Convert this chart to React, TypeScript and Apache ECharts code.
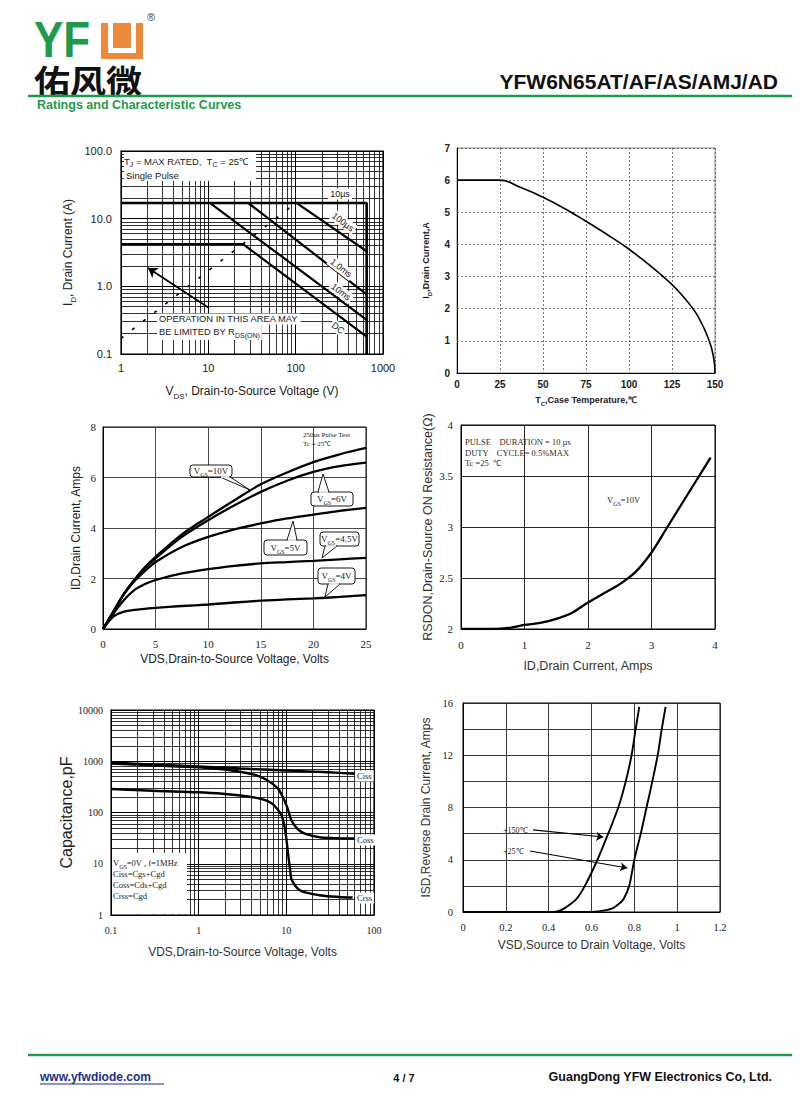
import React, { useEffect, useRef } from "react";
import * as echarts from "echarts";

const SANS = "'Liberation Sans', Arial, Helvetica, sans-serif";
const SERIF = "'Liberation Serif', 'Times New Roman', serif";
const CJK = "'Noto Sans CJK SC', sans-serif";
const GREEN = "#1f9a4c";
const ORANGE = "#ec8a3c";
const INK = "#1a1a1a";

// ---------- Chart 1: Safe operating area (log-log) ----------
const soaXRange = [1, 1000];
const soaYRange = [0.1, 100];
const soa10us = [[1, 17], [650, 17], [650, 0.1]];
const soa100us = [[103, 17], [650, 3.3]];
const soa1ms = [[28.7, 17], [650, 0.76]];
const soa10ms = [[10.5, 17], [650, 0.32]];
const soaDC = [[1, 4.2], [25, 4.2], [650, 0.18]];
const soaRdsLimit = [[1, 0.17], [90, 15.3]];
const soaArrow = [[10.2, 0.48], [2.04, 1.86]];

// ---------- Chart 2: Current derating ----------
const derTemp = [0, 25, 37.5, 50, 62.5, 75, 87.5, 100, 112.5, 125, 131, 137.5, 140, 142, 144, 146, 147.5, 148.5, 149.3, 149.8, 150];
const derCurrent = [6, 6, 5.76, 5.47, 5.12, 4.72, 4.3, 3.85, 3.33, 2.75, 2.41, 1.98, 1.77, 1.57, 1.35, 1.09, 0.86, 0.66, 0.44, 0.22, 0];

// ---------- Chart 3: Output characteristics ----------
const outVds = [0, 1, 2, 3, 4, 5, 7.5, 10, 12.5, 15, 17.5, 20, 22.5, 25];
const outId10V = [0, 0.7, 1.4, 1.95, 2.45, 2.86, 3.75, 4.44, 5.1, 5.73, 6.2, 6.61, 6.92, 7.17];
const outId6V = [0, 0.7, 1.4, 1.95, 2.42, 2.8, 3.65, 4.31, 4.9, 5.43, 5.87, 6.22, 6.45, 6.59];
const outId5V = [0, 0.7, 1.38, 1.9, 2.3, 2.65, 3.25, 3.65, 3.95, 4.18, 4.38, 4.53, 4.68, 4.8];
const outId45V = [0, 0.62, 1.15, 1.55, 1.78, 1.94, 2.2, 2.37, 2.5, 2.6, 2.65, 2.7, 2.76, 2.82];
const outId4V = [0, 0.5, 0.69, 0.76, 0.8, 0.84, 0.91, 0.97, 1.05, 1.12, 1.17, 1.21, 1.27, 1.34];

// ---------- Chart 4: On-resistance vs drain current ----------
const rdsId = [0, 0.5, 0.75, 1, 1.25, 1.5, 1.75, 2, 2.25, 2.5, 2.75, 3, 3.25, 3.5, 3.75, 3.93];
const rdsOhm = [2.0, 2.0, 2.01, 2.04, 2.06, 2.1, 2.16, 2.26, 2.35, 2.44, 2.56, 2.75, 3.0, 3.25, 3.5, 3.68];

// ---------- Chart 5: Capacitance (log-log) ----------
const capXRange = [0.1, 100];
const capYRange = [1, 10000];
const cissV = [0.1, 0.3, 1, 3, 10, 30, 60];
const cissPF = [950, 860, 790, 720, 660, 610, 570];
const cossV = [0.1, 0.3, 1, 2, 3, 4.4, 6, 8, 9, 10, 10.7, 11.4, 12.5, 14, 16, 20, 25, 40, 60];
const cossPF = [900, 830, 760, 690, 620, 540, 430, 295, 210, 140, 100, 71, 55, 45, 39, 35, 32.5, 31.5, 31];
const crssV = [0.1, 0.3, 1, 2, 3, 4.4, 5.5, 6.8, 7.8, 8.8, 9.5, 10, 10.5, 11, 11.4, 12.5, 14, 16, 25, 40, 57];
const crssPF = [288, 265, 248, 230, 215, 195, 178, 152, 120, 89, 55, 31, 15, 8, 5.1, 3.8, 3.1, 2.8, 2.4, 2.25, 2.2];

// ---------- Chart 6: Body diode forward ----------
const vsd150 = [0, 0.4, 0.44, 0.475, 0.53, 0.569, 0.628, 0.678, 0.725, 0.76, 0.787, 0.806, 0.823];
const isd150 = [0, 0, 0.05, 0.3, 1, 2, 4, 6, 8, 10, 12, 14, 15.7];
const vsd25 = [0, 0.58, 0.62, 0.66, 0.7, 0.73, 0.75, 0.776, 0.8, 0.83, 0.857, 0.884, 0.909, 0.928, 0.946];
const isd25 = [0, 0, 0.03, 0.12, 0.3, 0.65, 1, 2, 4, 6, 8, 10, 12, 14, 15.7];
const arrow150 = [[0.327, 6.28], [0.655, 5.74]];
const arrow25 = [[0.313, 4.67], [0.767, 3.37]];

const zip = (xs: number[], ys: number[]) => xs.map((x, i) => [x, ys[i]]);

function decadeMinors(lo: number, hi: number): number[] {
  const out: number[] = [];
  for (let d = lo; d < hi * 0.999; d *= 10) {
    for (let k = 2; k <= 9; k++) out.push(+(d * k).toPrecision(3));
  }
  return out;
}

const cleanNum = (v: number) => String(+Number(v).toPrecision(6));

function nameStyle(size: number, family = SANS, weight: any = "normal", color = "#222") {
  return {
    fontSize: size,
    fontFamily: family,
    fontWeight: weight,
    color,
    rich: {
      a: { fontSize: size, fontFamily: family, fontWeight: weight, color, lineHeight: Math.round(size * 1.5) },
      s: { fontSize: Math.round(size * 0.68), fontFamily: family, fontWeight: weight, color, lineHeight: Math.round(size * 0.68), verticalAlign: "bottom" },
    },
  };
}

function labelStyle(size: number, family: string, margin: number, extra: any = {}) {
  return { fontSize: size, fontFamily: family, color: "#222", margin, ...extra };
}

function thick(idx: number, data: number[][], width = 2.3, extra: any = {}) {
  return {
    type: "line",
    xAxisIndex: idx,
    yAxisIndex: idx,
    data,
    symbol: "none",
    showSymbol: false,
    silent: true,
    smooth: 0.3,
    lineStyle: { color: "#000", width },
    z: 4,
    ...extra,
  };
}

function gridLines(idx: number, xs: number[], ys: number[], color = "#000", width = 0.8) {
  return {
    type: "line",
    xAxisIndex: idx,
    yAxisIndex: idx,
    data: [],
    silent: true,
    z: 1,
    markLine: {
      silent: true,
      animation: false,
      symbol: ["none", "none"],
      label: { show: false },
      lineStyle: { color, width, type: "solid" },
      emphasis: { disabled: true },
      data: [...xs.map((v) => ({ xAxis: v })), ...ys.map((v) => ({ yAxis: v }))],
    },
  };
}

function arrowSeries(idx: number, pts: number[][], width = 1.6, size = 8) {
  return {
    type: "line",
    xAxisIndex: idx,
    yAxisIndex: idx,
    data: [],
    silent: true,
    z: 5,
    markLine: {
      silent: true,
      animation: false,
      symbol: ["none", "arrow"],
      symbolSize: size,
      label: { show: false },
      lineStyle: { color: "#000", width, type: "solid" },
      emphasis: { disabled: true },
      data: [[{ coord: pts[0] }, { coord: pts[1] }]],
    },
  };
}

function txt(x: number, y: number, text: string, size: number, opts: any = {}) {
  const { family = SANS, weight = "normal", fill = INK, align = "left", rotation = 0, bg, rich, z = 100, scaleX = 1, scaleY = 1 } = opts;
  const style: any = {
    text,
    fontSize: size,
    fontFamily: family,
    fontWeight: weight,
    fill,
    align,
    textAlign: align,
    verticalAlign: "middle",
    textVerticalAlign: "middle",
  };
  if (bg) {
    style.backgroundColor = bg;
    style.padding = [1, 2, 1, 2];
  }
  if (rich) style.rich = rich;
  return { type: "text", x, y, rotation, scaleX, scaleY, z, silent: true, style };
}

function subRich(size: number, family = SANS, fill = INK, weight: any = "normal") {
  return {
    a: { fontSize: size, fontFamily: family, fill, color: fill, fontWeight: weight, lineHeight: Math.round(size * 1.5) },
    s: { fontSize: Math.round(size * 0.7), fontFamily: family, fill, color: fill, fontWeight: weight, lineHeight: Math.round(size * 0.7), verticalAlign: "bottom" },
  };
}

function callout(box: number[], pointer: number[][], label: string) {
  const [bx, by, bw, bh] = box;
  const els: any[] = [
    { type: "rect", z: 90, silent: true, shape: { x: bx, y: by, width: bw, height: bh, r: 3 }, style: { fill: "#fff", stroke: "#000", lineWidth: 0.9 } },
    { type: "polygon", z: 91, silent: true, shape: { points: pointer }, style: { fill: "#fff", stroke: "#000", lineWidth: 0.9 } },
    { type: "line", z: 92, silent: true, shape: { x1: pointer[0][0] + 0.8, y1: pointer[0][1], x2: pointer[2][0] - 0.8, y2: pointer[2][1] }, style: { stroke: "#fff", lineWidth: 1.6 } },
    txt(bx + bw / 2, by + bh / 2, label, 9, { family: SERIF, align: "center", rich: subRich(9, SERIF), z: 93 }),
  ];
  return els;
}

function buildOption() {
  const axisBase = (idx: number) => ({
    gridIndex: idx,
    axisTick: { show: false },
    axisLine: { show: true, lineStyle: { color: "#000", width: 1 } },
  });

  const xAxis: any[] = [
    {
      ...axisBase(0), type: "log", logBase: 10, min: soaXRange[0], max: soaXRange[1],
      axisLabel: labelStyle(11, SANS, 8, { formatter: cleanNum }),
      splitLine: { show: true, lineStyle: { color: "#000", width: 1 } },
      name: "{a|V}{s|DS}{a|, Drain-to-Source Voltage (V)}", nameLocation: "middle", nameGap: 28,
      nameTextStyle: nameStyle(12),
    },
    {
      ...axisBase(1), type: "value", min: 0, max: 150, interval: 25,
      axisLabel: labelStyle(10, SANS, 6, { fontWeight: "bold" }),
      splitLine: { show: true, lineStyle: { color: "#555", width: 0.8, type: [2, 2] } },
      name: "{a|T}{s|C}{a|,Case Temperature,℃}", nameLocation: "middle", nameGap: 20,
      nameTextStyle: nameStyle(9, SANS, "bold"),
    },
    {
      ...axisBase(2), type: "value", min: 0, max: 25, interval: 5,
      axisLabel: labelStyle(11, SERIF, 9),
      splitLine: { show: true, lineStyle: { color: "#333", width: 0.9 } },
      name: "VDS,Drain-to-Source Voltage, Volts", nameLocation: "middle", nameGap: 24,
      nameTextStyle: { fontSize: 12, fontFamily: SANS, color: "#222" },
    },
    {
      ...axisBase(3), type: "value", min: 0, max: 4, interval: 1,
      axisLabel: labelStyle(11, SERIF, 10),
      splitLine: { show: true, lineStyle: { color: "#111", width: 0.9 } },
      name: "ID,Drain Current, Amps", nameLocation: "middle", nameGap: 30,
      nameTextStyle: { fontSize: 12.5, fontFamily: SANS, color: "#333" },
    },
    {
      ...axisBase(4), type: "log", logBase: 10, min: capXRange[0], max: capXRange[1],
      axisLabel: labelStyle(10, SERIF, 10, { formatter: cleanNum }),
      splitLine: { show: true, lineStyle: { color: "#000", width: 1 } },
      name: "VDS,Drain-to-Source Voltage, Volts", nameLocation: "middle", nameGap: 31,
      nameTextStyle: { fontSize: 12, fontFamily: SANS, color: "#333" },
    },
    {
      ...axisBase(5), type: "value", min: 0, max: 1.2, interval: 0.2,
      axisLabel: labelStyle(10.5, SERIF, 10, { formatter: (v: number) => String(Math.round(v * 10) / 10) }),
      splitLine: { show: true, lineStyle: { color: "#222", width: 0.9 } },
      name: "VSD,Source to Drain Voltage, Volts", nameLocation: "middle", nameGap: 27,
      nameTextStyle: { fontSize: 12, fontFamily: SANS, color: "#333" },
    },
  ];

  const yAxis: any[] = [
    {
      ...axisBase(0), type: "log", logBase: 10, min: soaYRange[0], max: soaYRange[1],
      axisLabel: labelStyle(11, SANS, 9, { formatter: (v: number) => Number(v).toFixed(1) }),
      splitLine: { show: true, lineStyle: { color: "#000", width: 1 } },
      name: "{a|I}{s|D}{a|, Drain Current (A)}", nameLocation: "middle", nameGap: 44,
      nameTextStyle: nameStyle(12),
    },
    {
      ...axisBase(1), type: "value", min: 0, max: 7, interval: 1,
      axisLabel: labelStyle(10, SANS, 7, { fontWeight: "bold" }),
      splitLine: { show: true, lineStyle: { color: "#555", width: 0.8, type: [2, 2] } },
      name: "{a|I}{s|D}{a|,Drain Current,A}", nameLocation: "middle", nameGap: 24,
      nameTextStyle: nameStyle(9, SANS, "bold"),
    },
    {
      ...axisBase(2), type: "value", min: 0, max: 8, interval: 2,
      axisLabel: labelStyle(11, SERIF, 7),
      splitLine: { show: true, lineStyle: { color: "#333", width: 0.9 } },
      name: "ID,Drain Current, Amps", nameLocation: "middle", nameGap: 21,
      nameTextStyle: { fontSize: 12, fontFamily: SANS, color: "#222" },
    },
    {
      ...axisBase(3), type: "value", min: 2, max: 4, interval: 0.5,
      axisLabel: labelStyle(11, SERIF, 8),
      splitLine: { show: true, lineStyle: { color: "#111", width: 0.9 } },
      name: "RSDON,Drain-Source ON Resistance(Ω)", nameLocation: "middle", nameGap: 27,
      nameTextStyle: { fontSize: 12.5, fontFamily: SANS, color: "#333" },
    },
    {
      ...axisBase(4), type: "log", logBase: 10, min: capYRange[0], max: capYRange[1],
      axisLabel: labelStyle(10, SERIF, 8, { formatter: cleanNum }),
      splitLine: { show: true, lineStyle: { color: "#000", width: 1 } },
      name: "Capacitance,pF", nameLocation: "middle", nameGap: 25,
      nameTextStyle: { fontSize: 16, fontFamily: SANS, color: "#222" },
    },
    {
      ...axisBase(5), type: "value", min: 0, max: 16, interval: 2,
      axisLabel: labelStyle(10.5, SERIF, 10, { formatter: (v: number) => (Math.round(v) % 4 === 0 ? String(Math.round(v)) : "") }),
      splitLine: { show: true, lineStyle: { color: "#222", width: 0.9 } },
      name: "ISD,Reverse Drain Current, Amps", nameLocation: "middle", nameGap: 31,
      nameTextStyle: { fontSize: 12, fontFamily: SANS, color: "#333" },
    },
  ];

  const series: any[] = [
    // chart 1
    gridLines(0, decadeMinors(1, 1000), decadeMinors(0.1, 100)),
    thick(0, soa10us, 2.6, { smooth: false }),
    thick(0, soa100us, 2.2, { smooth: false }),
    thick(0, soa1ms, 2.2, { smooth: false }),
    thick(0, soa10ms, 2.2, { smooth: false }),
    thick(0, soaDC, 2.2, { smooth: false }),
    thick(0, soaRdsLimit, 1.6, { smooth: false, lineStyle: { color: "#000", width: 1.6, type: [3, 11] } }),
    arrowSeries(0, soaArrow, 1.8, 9),
    // chart 2
    thick(1, zip(derTemp, derCurrent), 1.6, { smooth: 0.4 }),
    // chart 3
    thick(2, zip(outVds, outId10V), 2.3),
    thick(2, zip(outVds, outId6V), 2.3),
    thick(2, zip(outVds, outId5V), 2.3),
    thick(2, zip(outVds, outId45V), 2.3),
    thick(2, zip(outVds, outId4V), 2.3),
    // chart 4
    thick(3, zip(rdsId, rdsOhm), 2.3),
    // chart 5
    gridLines(4, decadeMinors(0.1, 100), decadeMinors(1, 10000)),
    thick(4, zip(cissV, cissPF), 2.4),
    thick(4, zip(cossV, cossPF), 2.4),
    thick(4, zip(crssV, crssPF), 2.4),
    // chart 6
    thick(5, zip(vsd150, isd150), 1.9),
    thick(5, zip(vsd25, isd25), 1.9),
    arrowSeries(5, arrow150, 1.2, 7),
    arrowSeries(5, arrow25, 1.2, 7),
  ];

  const graphic: any[] = [
    // ---- header ----
    txt(34, 40, "YF", 44, { weight: "bold", fill: GREEN, scaleY: 1.12 }),
    { type: "rect", z: 100, silent: true, shape: { x: 101, y: 23, width: 42, height: 36 }, style: { fill: ORANGE } },
    { type: "rect", z: 101, silent: true, shape: { x: 108, y: 23, width: 28, height: 30 }, style: { fill: "#fff" } },
    { type: "rect", z: 102, silent: true, shape: { x: 113, y: 23, width: 18, height: 25 }, style: { fill: ORANGE } },
    txt(147, 17, "®", 11, { fill: "#444" }),
    txt(34, 79, "佑风微", 30, { family: CJK, weight: "bold", fill: "#111", scaleX: 1.2, scaleY: 1.05 }),
    txt(778, 81, "YFW6N65AT/AF/AS/AMJ/AD", 21, { weight: "bold", align: "right", fill: "#111" }),
    { type: "line", z: 100, silent: true, shape: { x1: 28, y1: 96, x2: 792, y2: 96 }, style: { stroke: GREEN, lineWidth: 2.5 } },
    txt(37, 105, "Ratings and Characteristic Curves", 12.5, { weight: "bold", fill: GREEN }),
    // ---- footer ----
    { type: "line", z: 100, silent: true, shape: { x1: 28, y1: 1055, x2: 792, y2: 1055 }, style: { stroke: GREEN, lineWidth: 2.5 } },
    txt(40, 1077, "www.yfwdiode.com", 12, { weight: "bold", fill: "#1a2f8c" }),
    { type: "line", z: 100, silent: true, shape: { x1: 40, y1: 1084, x2: 164, y2: 1084 }, style: { stroke: "#1a2f8c", lineWidth: 1.2 } },
    txt(404, 1078, "4 / 7", 11, { weight: "bold", align: "center", fill: "#111" }),
    txt(772, 1077, "GuangDong YFW Electronics Co, Ltd.", 12.5, { weight: "bold", align: "right", fill: "#111" }),

    // ---- chart 1 annotations ----
    { type: "rect", z: 80, silent: true, shape: { x: 124, y: 152, width: 132, height: 29 }, style: { fill: "#fff" } },
    txt(124, 161, "{a|T}{s|J}{a| = MAX RATED,  T}{s|C}{a| = 25℃}", 9.5, { rich: subRich(9.5) }),
    txt(126, 175, "Single Pulse", 9.5),
    txt(340, 194, "10µs", 9, { align: "center", bg: "#fff" }),
    txt(343, 222, "100µs", 9, { align: "center", bg: "#fff", rotation: -0.65 }),
    txt(341, 268, "1.0ms", 9, { align: "center", bg: "#fff", rotation: -0.65 }),
    txt(341, 292, "10ms", 9, { align: "center", bg: "#fff", rotation: -0.65 }),
    txt(338, 328, "DC", 9, { align: "center", bg: "#fff", rotation: -0.65 }),
    txt(157, 319, "OPERATION IN THIS AREA MAY", 9.3, { bg: "#fff" }),
    txt(157, 332, "{a|BE LIMITED BY R}{s|DS(ON)}", 9.3, { bg: "#fff", rich: subRich(9.3) }),

    // ---- chart 3 annotations ----
    txt(303, 435, "250us Pulse Test", 7, { family: SERIF }),
    txt(303, 444, "Tc = 25℃", 7, { family: SERIF }),
    ...callout([190, 465, 42, 12], [[220, 477], [250, 490], [230, 477]], "{a|V}{s|GS}{a|=10V}"),
    ...callout([311, 492, 42, 14], [[318, 492], [323, 474], [329, 492]], "{a|V}{s|GS}{a|=6V}"),
    ...callout([264, 540, 43, 15], [[287, 540], [293, 521], [297, 540]], "{a|V}{s|GS}{a|=5V}"),
    ...callout([320, 532, 39, 14], [[325, 546], [322, 558], [337, 546]], "{a|V}{s|GS}{a|=4.5V}"),
    ...callout([318, 568, 37, 16], [[328, 584], [325, 597], [340, 584]], "{a|V}{s|GS}{a|=4V}"),

    // ---- chart 4 annotations ----
    txt(465, 442, "PULSE    DURATION = 10 µs", 8.5, { family: SERIF, fill: "#3a2a22" }),
    txt(465, 453, "DUTY    CYCLE= 0.5%MAX", 8.5, { family: SERIF, fill: "#3a2a22" }),
    txt(465, 463, "Tc =25  ℃", 8.5, { family: SERIF, fill: "#3a2a22" }),
    txt(607, 500, "{a|V}{s|GS}{a|=10V}", 8.5, { family: SERIF, rich: subRich(8.5, SERIF) }),

    // ---- chart 5 annotations ----
    { type: "rect", z: 80, silent: true, shape: { x: 112, y: 853, width: 75, height: 61 }, style: { fill: "#fff" } },
    txt(113, 863, "{a|V}{s|GS}{a|=0V , f=1MHz}", 8.5, { family: SERIF, rich: subRich(8.5, SERIF) }),
    txt(113, 874, "Ciss=Cgs+Cgd", 8.5, { family: SERIF }),
    txt(113, 885, "Coss=Cds+Cgd", 8.5, { family: SERIF }),
    txt(113, 896, "Crss=Cgd", 8.5, { family: SERIF }),
    txt(355, 776, "Ciss", 8.5, { family: SERIF, bg: "#fff" }),
    txt(355, 840, "Coss", 8.5, { family: SERIF, bg: "#fff" }),
    txt(355, 898, "Crss", 8.5, { family: SERIF, bg: "#fff" }),

    // ---- chart 6 annotations ----
    txt(503, 830, "+150℃", 8, { family: SERIF }),
    txt(503, 851, "+25℃", 8, { family: SERIF }),
  ];

  return {
    animation: false,
    backgroundColor: "#fff",
    textStyle: { fontFamily: SANS },
    grid: [
      { left: 121, top: 151, width: 262, height: 203, show: true, borderColor: "#000", borderWidth: 1.2 },
      { left: 457, top: 148, width: 258, height: 225, show: true, borderColor: "#888", borderWidth: 1 },
      { left: 103, top: 427, width: 263, height: 202, show: true, borderColor: "#000", borderWidth: 1 },
      { left: 461, top: 425, width: 254, height: 204, show: true, borderColor: "#000", borderWidth: 1 },
      { left: 111, top: 710, width: 263, height: 205, show: true, borderColor: "#000", borderWidth: 1.2 },
      { left: 463, top: 703, width: 257, height: 209, show: true, borderColor: "#000", borderWidth: 1 },
    ],
    xAxis,
    yAxis,
    series,
    graphic,
  };
}

export default function App() {
  const ref = useRef<HTMLDivElement>(null);
  useEffect(() => {
    if (!ref.current) return;
    const chart = echarts.init(ref.current, undefined, { renderer: "svg" });
    chart.setOption(buildOption() as any);
    return () => chart.dispose();
  }, []);
  return (
    <div
      ref={ref}
      style={{ position: "absolute", left: 0, top: 0, width: 800, height: 1116, background: "#fff" }}
    />
  );
}
